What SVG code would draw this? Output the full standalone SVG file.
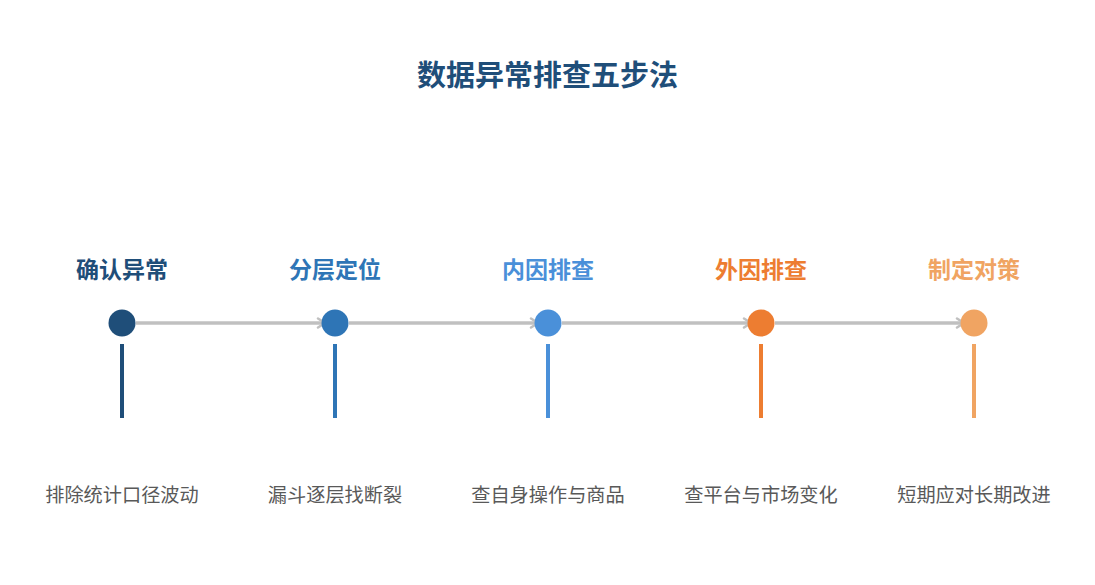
<svg xmlns="http://www.w3.org/2000/svg" width="1095" height="585" viewBox="0 0 1095 585">
<defs>
<style>
.title{font-family:"Noto Sans CJK SC","Liberation Sans",sans-serif;font-weight:700;font-size:29px;fill:#1f4e79;text-anchor:middle}
.lbl{font-family:"Noto Sans CJK SC","Liberation Sans",sans-serif;font-weight:700;font-size:23px;text-anchor:middle}
.desc{font-family:"Noto Sans CJK SC","Liberation Sans",sans-serif;font-size:19.2px;fill:#595959;text-anchor:middle}
.conn{stroke:#c0c0c0;stroke-width:3.5;fill:none;marker-end:url(#arr)}
.stem{stroke-width:4}
</style>
<marker id="arr" viewBox="0 0 12 12" refX="9" refY="6" markerWidth="12" markerHeight="12" orient="auto" markerUnits="userSpaceOnUse">
<path d="M2,1.5 L9,6 L2,10.5" fill="none" stroke="#c0c0c0" stroke-width="2.5" stroke-linecap="round" stroke-linejoin="round"/>
</marker>
</defs>
<rect width="1095" height="585" fill="#ffffff"/>
<text class="title" x="547.5" y="86">数据异常排查五步法</text>
<g id="connectors">
<line class="conn" x1="136" y1="323" x2="325" y2="323"/>
<line class="conn" x1="349" y1="323" x2="538" y2="323"/>
<line class="conn" x1="562" y1="323" x2="751" y2="323"/>
<line class="conn" x1="775" y1="323" x2="964" y2="323"/>
</g>
<g id="step1">
<text class="lbl" x="122" y="278" fill="#1f4e79">确认异常</text>
<circle cx="122" cy="323" r="13.5" fill="#1f4e79"/>
<line class="stem" x1="122" y1="344" x2="122" y2="418" stroke="#1f4e79"/>
<text class="desc" x="122" y="502">排除统计口径波动</text>
</g>
<g id="step2">
<text class="lbl" x="335" y="278" fill="#2e75b6">分层定位</text>
<circle cx="335" cy="323" r="13.5" fill="#2e75b6"/>
<line class="stem" x1="335" y1="344" x2="335" y2="418" stroke="#2e75b6"/>
<text class="desc" x="335" y="502">漏斗逐层找断裂</text>
</g>
<g id="step3">
<text class="lbl" x="548" y="278" fill="#4a90d9">内因排查</text>
<circle cx="548" cy="323" r="13.5" fill="#4a90d9"/>
<line class="stem" x1="548" y1="344" x2="548" y2="418" stroke="#4a90d9"/>
<text class="desc" x="548" y="502">查自身操作与商品</text>
</g>
<g id="step4">
<text class="lbl" x="761" y="278" fill="#ed7d31">外因排查</text>
<circle cx="761" cy="323" r="13.5" fill="#ed7d31"/>
<line class="stem" x1="761" y1="344" x2="761" y2="418" stroke="#ed7d31"/>
<text class="desc" x="761" y="502">查平台与市场变化</text>
</g>
<g id="step5">
<text class="lbl" x="974" y="278" fill="#f0a462">制定对策</text>
<circle cx="974" cy="323" r="13.5" fill="#f0a462"/>
<line class="stem" x1="974" y1="344" x2="974" y2="418" stroke="#f0a462"/>
<text class="desc" x="974" y="502">短期应对长期改进</text>
</g>
</svg>
